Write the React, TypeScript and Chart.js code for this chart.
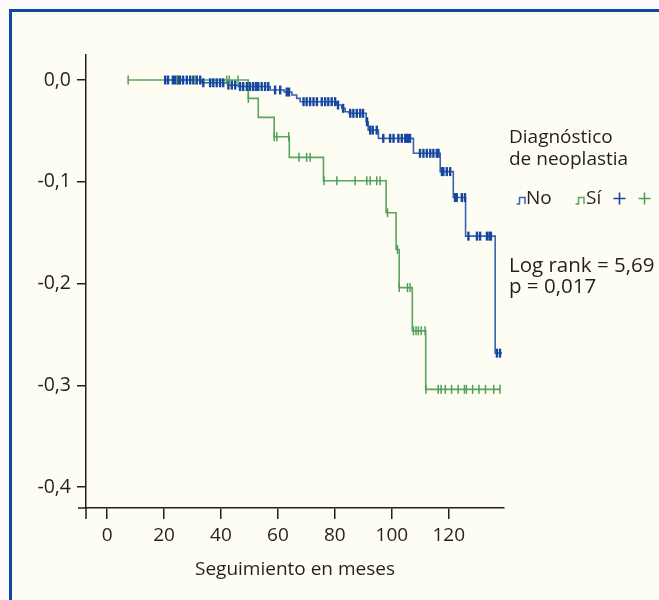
import React, { useEffect, useRef } from "react";
import { Chart, registerables } from "chart.js";

Chart.register(...registerables);

// ---- Data ----
const xTickValues = [0, 20, 40, 60, 80, 100, 120];
const yTickValues = [0, -0.1, -0.2, -0.3, -0.4];

// "No" group: step times (months) and value after each step
const noTimes = [20.4, 33.3, 42.5, 46.0, 57.3, 62.2, 64.9, 66.6, 67.8, 80.7, 82.4, 83.6, 85.0, 91.0, 91.7, 95.3, 107.6, 117.0, 121.6, 125.9, 136.3, 138.7];
const noValues = [0, -0.0027, -0.005, -0.0064, -0.0098, -0.0118, -0.0147, -0.018, -0.0213, -0.0246, -0.0278, -0.0312, -0.0327, -0.041, -0.0492, -0.0573, -0.072, -0.09, -0.1155, -0.1534, -0.2684, -0.2684];
const noCensored = [
  20.4, 21.4, 23.1, 23.9, 24.9, 25.6, 26.7, 28.0, 29.2, 30.3, 31.5, 32.7,
  33.8, 36.2, 37.3, 38.5, 39.7, 40.8, 42.6, 43.8, 45.0,
  46.7, 47.8, 49.1, 50.2, 51.3, 52.3, 53.1, 54.3, 55.5, 56.6,
  59.0, 60.8, 63.1, 63.9,
  69.0, 70.1, 71.3, 72.5, 73.7, 75.4, 76.6, 77.7, 78.9, 80.1,
  81.1, 82.9, 85.4, 86.5, 87.7, 88.9, 89.9, 91.3, 92.4, 93.3, 94.7,
  97.0, 99.4, 100.6, 102.3, 103.5, 104.7, 105.3, 105.8, 106.4,
  109.9, 111.1, 112.3, 113.5, 114.6, 115.8, 116.4,
  117.6, 118.1, 119.3, 120.5, 122.2, 122.8, 124.6, 125.7,
  126.9, 129.9, 131.0, 133.4, 134.3, 134.8, 136.9, 138.0,
];

// "Sí" group
const siTimes = [7.4, 49.6, 53.1, 58.7, 64.0, 76.0, 98.0, 101.5, 102.6, 107.2, 111.9, 138.0];
const siValues = [0, -0.018, -0.0367, -0.0557, -0.076, -0.099, -0.1305, -0.1665, -0.204, -0.2465, -0.304, -0.304];
const siCensored = [
  7.4, 24.5, 30.9, 42.0, 42.9, 46.0, 49.6, 58.7, 59.6, 63.8,
  67.4, 70.1, 71.3, 76.2, 80.7, 87.1, 91.2, 92.4, 94.7, 95.9,
  98.5, 102.0, 102.6, 105.5, 106.4, 107.6, 108.5, 109.3, 110.3, 111.7,
  112.0, 116.3, 117.3, 118.8, 121.0, 123.3, 125.5, 126.2, 128.4, 130.6, 132.9, 135.8, 138.0,
];

const legendTitle = ["Diagnóstico", "de neoplastia"];
const legendLabels = ["No", "Sí"];
const statLines = ["Log rank = 5,69", "p = 0,017"];
const xAxisTitle = "Seguimiento en meses";

// ---- Styles ----
const BLUE_LINE = "#3a62ad";
const BLUE_MARK = "#1546a0";
const GREEN_LINE = "#5ba461";
const GREEN_MARK = "#4f9f56";
const INK = "#231f20";
const FONT = "'Open Sans', 'Noto Sans', sans-serif";

function levelAt(times: number[], values: number[], t: number) {
  let v = values[0];
  for (let i = 0; i < times.length; i++) if (times[i] <= t) v = values[i];
  return v;
}

const toPts = (times: number[], values: number[]) => times.map((t, i) => ({ x: t, y: values[i] }));
const censorPts = (cens: number[], times: number[], values: number[]) =>
  cens.map((t) => ({ x: t, y: levelAt(times, values, t) }));

const decorPlugin = {
  id: "decor",
  afterDraw(chart: any) {
    const { ctx, chartArea } = chart;
    const { left, bottom } = chartArea;
    ctx.save();
    // x-axis extension to the left and small drop at the y axis
    ctx.strokeStyle = INK;
    ctx.lineWidth = 1.5;
    ctx.beginPath();
    ctx.moveTo(left - 8, bottom);
    ctx.lineTo(left, bottom);
    ctx.moveTo(left, bottom);
    ctx.lineTo(left, bottom + 11);
    ctx.stroke();

    // legend
    ctx.fillStyle = INK;
    ctx.font = `19px ${FONT}`;
    ctx.textBaseline = "alphabetic";
    ctx.textAlign = "left";
    ctx.fillText(legendTitle[0], 509, 143);
    ctx.fillText(legendTitle[1], 509, 165);

    const drawIcon = (x: number, color: string) => {
      ctx.strokeStyle = color;
      ctx.lineWidth = 1.5;
      ctx.beginPath();
      ctx.moveTo(x, 204);
      ctx.lineTo(x + 3, 204);
      ctx.lineTo(x + 3, 197.5);
      ctx.lineTo(x + 8.5, 197.5);
      ctx.lineTo(x + 8.5, 204);
      ctx.stroke();
    };
    drawIcon(516.5, BLUE_LINE);
    ctx.fillStyle = INK;
    ctx.fillText(legendLabels[0], 526, 204);
    drawIcon(575.5, GREEN_LINE);
    ctx.fillStyle = INK;
    ctx.fillText(legendLabels[1], 586, 204);

    const drawCross = (cx: number, color: string) => {
      ctx.strokeStyle = color;
      ctx.lineWidth = 1.6;
      ctx.beginPath();
      ctx.moveTo(cx - 6, 198.5);
      ctx.lineTo(cx + 6, 198.5);
      ctx.moveTo(cx, 192.5);
      ctx.lineTo(cx, 204.5);
      ctx.stroke();
    };
    drawCross(619.5, BLUE_MARK);
    drawCross(644.5, GREEN_MARK);

    // statistics
    ctx.textAlign = "left";
    ctx.fillStyle = INK;
    ctx.font = `20.5px ${FONT}`;
    ctx.fillText(statLines[0], 509, 271.5);
    ctx.fillText(statLines[1], 509, 292.5);
    ctx.restore();
  },
};

export default function App() {
  const ref = useRef<HTMLCanvasElement>(null);

  useEffect(() => {
    const canvas = ref.current;
    if (!canvas) return;
    const chart = new Chart(canvas, {
      type: "line",
      data: {
        datasets: [
          {
            label: "Sí +",
            data: censorPts(siCensored, siTimes, siValues),
            showLine: false,
            pointStyle: "line",
            rotation: 90,
            pointRadius: 4.5,
            pointBorderWidth: 1.5,
            borderColor: GREEN_MARK,
            backgroundColor: GREEN_MARK,
            order: 1,
          },
          {
            label: "No +",
            data: censorPts(noCensored, noTimes, noValues),
            showLine: false,
            pointStyle: "line",
            rotation: 90,
            pointRadius: 4.5,
            pointBorderWidth: 2.4,
            borderColor: BLUE_MARK,
            backgroundColor: BLUE_MARK,
            order: 2,
          },
          {
            label: "No",
            data: toPts(noTimes, noValues),
            stepped: "before",
            borderColor: BLUE_LINE,
            borderWidth: 1.6,
            pointRadius: 0,
            fill: false,
            order: 3,
          },
          {
            label: "Sí",
            data: toPts(siTimes, siValues),
            stepped: "before",
            borderColor: GREEN_LINE,
            borderWidth: 1.6,
            pointRadius: 0,
            fill: false,
            order: 4,
          },
        ],
      },
      options: {
        responsive: false,
        devicePixelRatio: 1,
        animation: false,
        layout: { padding: { top: 55, right: 155, left: 0, bottom: 0 } },
        plugins: { legend: { display: false }, tooltip: { enabled: false } },
        scales: {
          x: {
            type: "linear",
            min: -7.4,
            max: 139.4,
            afterFit: (s: any) => {
              s.height = 92;
            },
            afterBuildTicks: (s: any) => {
              s.ticks = xTickValues.map((v) => ({ value: v }));
            },
            ticks: {
              color: INK,
              font: { family: FONT, size: 19 },
              padding: 5,
              maxRotation: 0,
              autoSkip: false,
              callback: (v: any) => String(v),
            },
            grid: { display: true, drawOnChartArea: false, drawTicks: true, tickLength: 11, color: INK, lineWidth: 1.5 },
            border: { display: true, color: INK, width: 1.5 },
            title: {
              display: true,
              text: xAxisTitle,
              color: INK,
              font: { family: FONT, size: 19 },
              padding: { top: 0, bottom: 19 },
            },
          },
          y: {
            type: "linear",
            min: -0.4206,
            max: 0.0246,
            afterFit: (s: any) => {
              s.width = 86;
            },
            afterBuildTicks: (s: any) => {
              s.ticks = yTickValues.map((v) => ({ value: v }));
            },
            ticks: {
              color: INK,
              font: { family: FONT, size: 19.5 },
              padding: 6,
              callback: (v: any) => Number(v).toFixed(1).replace(".", ","),
            },
            grid: { display: true, drawOnChartArea: false, drawTicks: true, tickLength: 9, color: INK, lineWidth: 1.5 },
            border: { display: true, color: INK, width: 1.5 },
          },
        },
      },
      plugins: [decorPlugin],
    } as any);
    return () => chart.destroy();
  }, []);

  return (
    <div
      style={{
        position: "fixed",
        left: 0,
        top: 0,
        width: 659,
        height: 600,
        overflow: "hidden",
        background: "#fbfbfb",
      }}
    >
      <div
        style={{
          position: "absolute",
          left: 9,
          top: 9,
          width: 700,
          height: 700,
          border: "3px solid #1247a6",
          background: "#fefdf3",
        }}
      />
      <canvas
        ref={ref}
        width={659}
        height={600}
        style={{ position: "absolute", left: 0, top: 0, width: 659, height: 600 }}
      />
    </div>
  );
}
